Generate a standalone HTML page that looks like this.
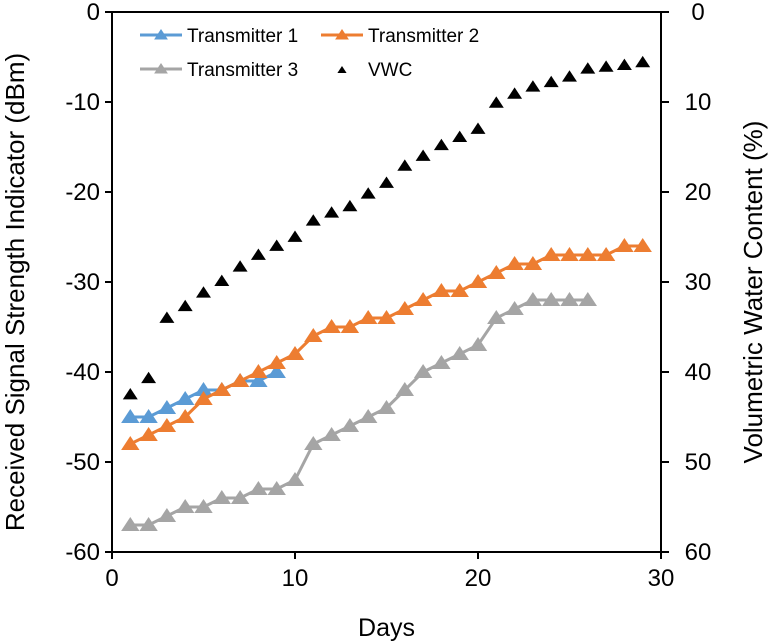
<!DOCTYPE html>
<html><head><meta charset="utf-8"><style>
body{margin:0;background:#fff}
svg{display:block;font-family:"Liberation Sans",Arial,sans-serif}
</style></head><body>
<svg id="chart" width="780" height="641"></svg>
<script>
const days = [1,2,3,4,5,6,7,8,9,10,11,12,13,14,15,16,17,18,19,20,21,22,23,24,25,26,27,28,29];
const t1 = [-45,-45,-44,-43,-42,-42,-41,-41,-40];
const t2 = [-48,-47,-46,-45,-43,-42,-41,-40,-39,-38,-36,-35,-35,-34,-34,-33,-32,-31,-31,-30,-29,-28,-28,-27,-27,-27,-27,-26,-26];
const t3 = [-57,-57,-56,-55,-55,-54,-54,-53,-53,-52,-48,-47,-46,-45,-44,-42,-40,-39,-38,-37,-34,-33,-32,-32,-32,-32];
const vwc = [42.5,40.7,34,32.7,31.2,29.9,28.3,27,26,25,23.2,22.3,21.6,20.2,19,17.1,16,14.8,13.9,13,10.1,9.1,8.3,7.8,7.2,6.3,6.1,5.9,5.6];
const xTicks = [0,10,20,30];
const yTicks = [0,-10,-20,-30,-40,-50,-60];
const y2Ticks = [0,10,20,30,40,50,60];

const L=112,R=661,T=12,B=552;
const xs=d=>L+(d/30)*(R-L);
const ys=v=>T+(v/-60)*(B-T);
const y2s=v=>T+(v/60)*(B-T);
const NS='http://www.w3.org/2000/svg';
const svg=document.getElementById('chart');
function mk(tag,attrs,parent){const e=document.createElementNS(NS,tag);for(const k in attrs)e.setAttribute(k,attrs[k]);(parent||svg).appendChild(e);return e;}
function tri(cx,cy,s,fill,parent){return mk('polygon',{points:`${cx},${cy-s} ${cx-s*1.15},${cy+s*0.75} ${cx+s*1.15},${cy+s*0.75}`,fill:fill},parent);}

const frame=mk('rect',{x:L,y:T,width:R-L,height:B-T,fill:'none',stroke:'#000','stroke-width':2});



xTicks.forEach(t=>{
  const tk=mk('line',{x1:xs(t),x2:xs(t),y1:B,y2:B+7,stroke:'#000','stroke-width':2});
  
  
  const tx=mk('text',{x:xs(t),y:B+34,'text-anchor':'middle','font-size':24});
  tx.textContent=t;
  
  
});
yTicks.forEach(t=>{
  const tk=mk('line',{x1:L-7,x2:L,y1:ys(t),y2:ys(t),stroke:'#000','stroke-width':2});
  
  
  const tx=mk('text',{x:L-12,y:ys(t)+8,'text-anchor':'end','font-size':24});
  tx.textContent=t;
  
  
});
y2Ticks.forEach(t=>{
  const tk=mk('line',{x1:R,x2:R+8,y1:y2s(t),y2:y2s(t),stroke:'#000','stroke-width':2});
  
  
  const tx=mk('text',{x:R+37,y:y2s(t)+8,'text-anchor':'middle','font-size':24});
  tx.textContent=t;
  
  
});

const xt=mk('text',{x:(L+R)/2,y:636,'text-anchor':'middle','font-size':25});
xt.textContent='Days';


const yt=mk('text',{x:0,y:0,'text-anchor':'middle','font-size':26,transform:`translate(24,${(T+B)/2+10}) rotate(-90)`});
yt.textContent='Received Signal Strength Indicator (dBm)';


const y2t=mk('text',{x:0,y:0,'text-anchor':'middle','font-size':26,transform:`translate(762,${(T+B)/2+10}) rotate(-90)`});
y2t.textContent='Volumetric Water Content (%)';



function series(vals,color,name){
  const g=mk('g',{});
  
  
  mk('polyline',{points:vals.map((v,i)=>`${xs(days[i])},${ys(v)}`).join(' '),fill:'none',stroke:color,'stroke-width':3},g);
  vals.forEach((v,i)=>{const p=tri(xs(days[i]),ys(v),8,color,g);
    
    });
}
series(t3,'#a5a5a5','transmitter-3-series');
series(t1,'#5b9bd5','transmitter-1-series');
series(t2,'#ed7d31','transmitter-2-series');
const gv=mk('g',{});


vwc.forEach((v,i)=>{const p=tri(xs(days[i]),y2s(v),6.5,'#000',gv);
  
  });

function legend(x,y,color,label,lineOn,name){
  const g=mk('g',{});
  
  
  if(lineOn){mk('line',{x1:x,x2:x+42,y1:y,y2:y,stroke:color,'stroke-width':3},g);tri(x+21,y,6,color,g);}
  else tri(x+21,y+1,4,color,g);
  const t=mk('text',{x:x+47,y:y+7,'font-size':19},g);t.textContent=label;
}
legend(140,35,'#5b9bd5','Transmitter 1',true,'legend-transmitter-1');
legend(321,35,'#ed7d31','Transmitter 2',true,'legend-transmitter-2');
legend(140,69,'#a5a5a5','Transmitter 3',true,'legend-transmitter-3');
legend(321,69,'#000','VWC',false,'legend-vwc');
</script>
</body></html>
